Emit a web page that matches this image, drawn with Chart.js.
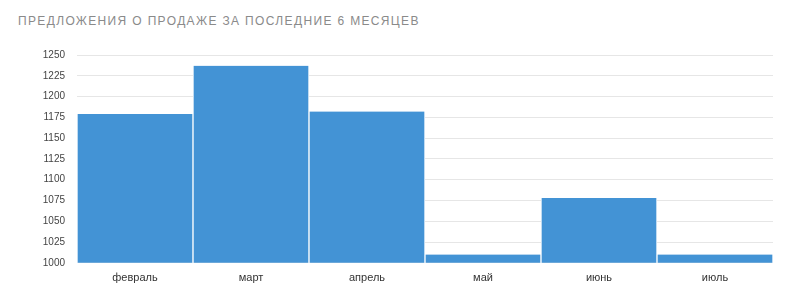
<!DOCTYPE html>
<html><head><meta charset="utf-8">
<script src="https://cdn.jsdelivr.net/npm/chart.js@4"></script>
<style>
html,body{margin:0;padding:0;background:#fff;width:800px;height:297px;overflow:hidden;}
#title{position:absolute;left:18px;top:14px;font-family:"Liberation Sans",Arial,sans-serif;font-size:12px;line-height:14px;letter-spacing:1.35px;color:#8a8a8a;white-space:nowrap;}
#wrap{position:absolute;left:0;top:0;width:800px;height:297px;}
</style></head>
<body>
<div id="title">ПРЕДЛОЖЕНИЯ О ПРОДАЖЕ ЗА ПОСЛЕДНИЕ 6 МЕСЯЦЕВ</div>
<div id="wrap"><canvas id="c" width="800" height="297"></canvas></div>
<script>
const months = ["февраль","март","апрель","май","июнь","июль"];
const offers = [1179, 1237, 1182, 1010, 1078, 1010];
const yMin = 1000, yMax = 1250, yStep = 25;

new Chart(document.getElementById('c'), {
  type: 'bar',
  data: { labels: months, datasets: [{ data: offers, backgroundColor: '#4393d5', borderColor: '#ffffff', borderWidth: {left:1,right:1,top:0,bottom:0}, borderSkipped: false, barPercentage: 1, categoryPercentage: 1 }] },
  options: {
    responsive: false, animation: false,
    layout: { padding: { left: 0, top: 55, right: 27, bottom: 3 } },
    plugins: { legend: { display: false }, tooltip: { enabled: false } },
    scales: {
      x: { grid: { display: false, drawTicks: false }, border: { display: false },
           ticks: { color: '#333', font: { family: 'Liberation Sans', size: 11 }, padding: 9 } },
      y: { min: yMin, max: yMax, grid: { color: '#e6e6e6', drawTicks: false }, border: { display: false },
           ticks: { stepSize: yStep, color: '#444', font: { family: 'Liberation Sans', size: 10 }, padding: 12,
                    callback: v => String(v) },
           afterFit: s => { s.width = 77; } }
    }
  }
});
</script>
</body></html>
